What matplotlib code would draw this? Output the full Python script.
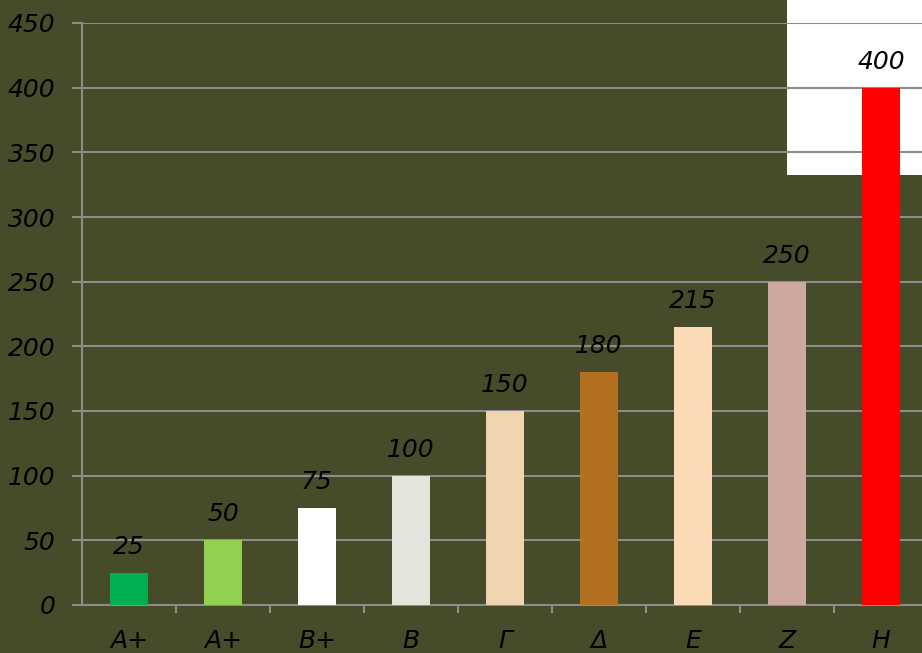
import matplotlib
matplotlib.use("Agg")
import matplotlib.pyplot as plt
from matplotlib.patches import Rectangle
from matplotlib.ticker import FixedLocator, MultipleLocator

categories = ["A+", "A+", "B+", "B", "Γ", "Δ", "E", "Z", "H"]
values = [25, 50, 75, 100, 150, 180, 215, 250, 400]
bar_colors = ["#00B050", "#92D050", "#FFFFFF", "#E1E5DC", "#F1D5B0",
              "#B37021", "#FADBB5", "#CDA8A0", "#FF0000"]

bg = "#464B29"
grid_c = "#8C8C8C"

fig = plt.figure(figsize=(9.22, 6.53), dpi=100, facecolor=bg)
ax = fig.add_axes([82 / 922, 48 / 653, 846 / 922, 582 / 653])
ax.set_facecolor(bg)

x = list(range(len(categories)))
ax.bar(x, values, width=0.4, color=bar_colors, zorder=3)

for xi, v in zip(x, values):
    ax.annotate(f"{v}", (xi, v), xytext=(0, 10), textcoords="offset points",
                ha="center", va="bottom", fontsize=18, style="italic",
                color="black", family="DejaVu Sans")

ax.set_xlim(-0.5, len(categories) - 0.5)
ax.set_ylim(0, 450)

# white panel in the upper right corner
panel = Rectangle((7.0, 332.5), 2.0, 150, facecolor="white",
                  edgecolor="none", zorder=0.2, clip_on=False)
ax.add_patch(panel)

ax.yaxis.set_major_locator(MultipleLocator(50))
ax.grid(axis="y", color=grid_c, linewidth=1.5, zorder=1)
ax.set_axisbelow(True)

ax.set_xticks(x)
ax.set_xticklabels(categories)
ax.xaxis.set_minor_locator(FixedLocator([i + 0.5 for i in range(len(categories) - 1)]))
ax.tick_params(axis="x", which="major", length=0, pad=17, labelsize=18, labelcolor="black")
ax.tick_params(axis="x", which="minor", length=6, width=1.5, color=grid_c)
ax.tick_params(axis="y", length=7, width=1.5, color=grid_c, pad=12,
               labelsize=18, labelcolor="black")
for lab in ax.get_xticklabels() + ax.get_yticklabels():
    lab.set_style("italic")

for side in ["top", "right"]:
    ax.spines[side].set_visible(False)
for side in ["left", "bottom"]:
    ax.spines[side].set_color(grid_c)
    ax.spines[side].set_linewidth(1.5)

fig.savefig("out.png", dpi=100, facecolor=bg)
